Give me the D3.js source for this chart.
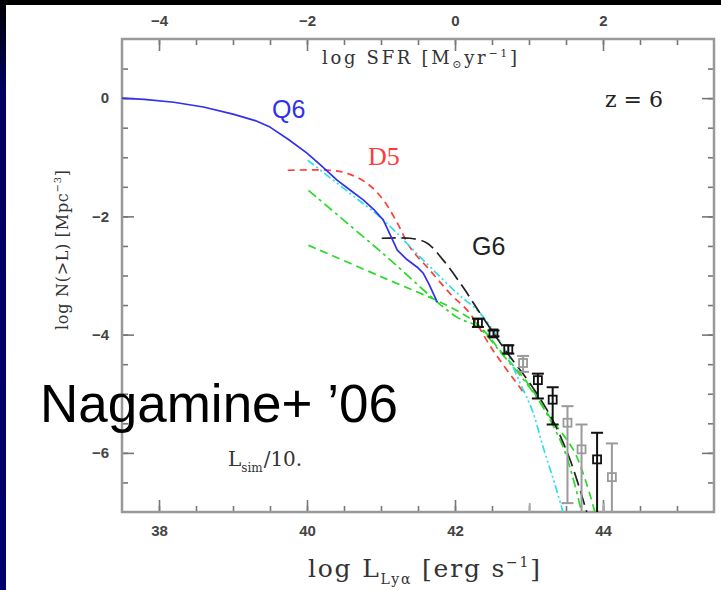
<!DOCTYPE html>
<html>
<head>
<meta charset="utf-8">
<script src="https://cdn.jsdelivr.net/npm/d3@7"></script>
<style>
  body { margin: 0; background: #000; }
  svg { display: block; }
  .tick text { font-family: "Liberation Sans", Arial, sans-serif; font-size: 15px; font-weight: bold; fill: #444; }
  .tick line { stroke: #777; stroke-width: 1.6; }
  .serif { font-family: "Liberation Serif", "DejaVu Serif", serif; }
  .wide { font-family: "DejaVu Serif", serif; }
  .sans { font-family: "Liberation Sans", Arial, sans-serif; }
</style>
</head>
<body>
<div id="chart"></div>
<script>
// curves: [log L, log N(>L)]
const q6 = [[37.5, 0], [37.8, -0.02], [38.2, -0.07], [38.6, -0.15], [39.0, -0.27], [39.3, -0.38], [39.5, -0.49],
  [39.75, -0.7], [40.0, -0.93], [40.2, -1.15], [40.41, -1.39], [40.6, -1.57], [40.76, -1.72], [40.9, -1.88],
  [41.03, -2.06], [41.12, -2.3], [41.22, -2.57], [41.35, -2.73], [41.49, -2.86], [41.57, -2.96], [41.65, -3.15],
  [41.76, -3.45]];
const d5 = [[39.74, -1.22], [40.31, -1.22], [40.54, -1.27], [40.81, -1.44], [41.03, -1.72], [41.22, -2.11],
  [41.39, -2.52], [41.66, -2.91], [41.93, -3.30], [42.2, -3.64], [42.51, -4.26], [42.88, -4.9], [42.95, -5.02]];
const g6 = [[41.01, -2.37], [41.39, -2.37], [41.62, -2.45], [41.84, -2.74], [42.11, -3.2], [42.34, -3.64],
  [42.7, -4.3], [43.0, -4.8], [43.3, -5.4], [43.55, -6.1], [43.78, -7.0]];
const cyanRun = [[40.01, -1.05], [40.58, -1.61], [41.03, -2.06], [41.57, -2.74], [42.03, -3.30], [42.34, -3.64],
  [42.65, -4.2], [42.88, -4.82], [43.05, -5.3], [43.19, -5.9], [43.33, -6.45], [43.46, -7.0]];
const greenA = [[40.02, -1.56], [41.0, -2.6], [42.02, -3.7], [42.3, -3.86], [42.65, -4.35], [42.97, -4.83],
  [43.2, -5.25], [43.46, -5.9], [43.6, -6.45], [43.71, -7.0]];
const greenB = [[40.02, -2.49], [41.0, -3.02], [41.93, -3.53], [42.3, -3.82], [42.65, -4.33], [42.97, -4.8],
  [43.28, -5.39], [43.6, -5.95], [43.76, -6.45], [43.89, -7.0]];

// observed points (log L, log N, lower, upper)
const obsBlack = [[42.31, -3.80, -3.87, -3.73], [42.52, -3.98, -4.03, -3.93], [42.72, -4.25, -4.32, -4.18],
  [43.12, -4.77, -5.08, -4.66], [43.32, -5.10, -5.52, -4.89], [43.92, -6.11, -7.5, -5.66]];
const obsGray = [[42.92, -4.48, -4.63, -4.36], [43.52, -5.49, -6.85, -5.21], [43.71, -5.94, -7.5, -5.52],
  [44.12, -6.41, -7.5, -5.84]];
// error bars of points below the frame: [log L, upper]
const obsStubs = [[43.01, -6.85], [44.01, -6.85]];

const xMajor = [38, 40, 42, 44];
const sfrMajor = [-4, -2, 0, 2];
const yMajor = [0, -2, -4, -6];

const W = 721, H = 590;
const margin = { l: 122, r: 7, t: 39, b: 78 };
const inner_w = W - margin.l - margin.r;
const inner_h = H - margin.t - margin.b;

const svg = d3.select("#chart").append("svg").attr("width", W).attr("height", H);

// slide background
const defs = svg.append("defs");
const grad = defs.append("linearGradient").attr("id", "navy").attr("x1", 0).attr("y1", 0).attr("x2", 0).attr("y2", 1);
grad.append("stop").attr("offset", "0%").attr("stop-color", "#000");
grad.append("stop").attr("offset", "15%").attr("stop-color", "#000060");
grad.append("stop").attr("offset", "100%").attr("stop-color", "#00006e");
svg.append("rect").attr("width", W).attr("height", H).attr("fill", "#000");
svg.append("rect").attr("width", 6).attr("height", H).attr("fill", "url(#navy)");
svg.append("rect").attr("x", 6).attr("y", 5).attr("width", W - 6).attr("height", H - 5).attr("fill", "#fff");

const x = d3.scaleLinear().domain([37.5, 45.5]).range([0, inner_w]);
const xs = d3.scaleLinear().domain([-4.5, 3.5]).range([0, inner_w]);
const y = d3.scaleLinear().domain([-7, 1]).range([inner_h, 0]);

defs.append("clipPath").attr("id", "clip").append("rect").attr("width", inner_w).attr("height", inner_h);

const graph = svg.append("g").attr("transform", `translate(${margin.l},${margin.t})`);

const halves = (lo, hi) => d3.range(lo, hi + 0.001, 0.5);

function ticks(axis, major, minor, tr) {
  graph.append("g").attr("transform", tr)
    .call(axis.tickValues(minor).tickSizeInner(-6).tickSizeOuter(0).tickFormat(""))
    .call(g => g.select(".domain").remove());
  graph.append("g").attr("transform", tr)
    .call(axis.tickValues(major).tickSizeInner(-12).tickSizeOuter(0).tickPadding(13).tickFormat(d3.format("d")))
    .call(g => g.select(".domain").remove());
}
ticks(d3.axisBottom(x), xMajor, halves(38, 45), `translate(0,${inner_h})`);
ticks(d3.axisTop(xs), sfrMajor, halves(-4, 3), "translate(0,0)");
ticks(d3.axisLeft(y), yMajor, halves(-6.5, 0.5), "translate(0,0)");
graph.append("g").attr("transform", `translate(${inner_w},0)`)
  .call(d3.axisRight(y).tickValues(halves(-6.5, 0.5)).tickSizeInner(-6).tickSizeOuter(0).tickFormat(""))
  .call(g => g.select(".domain").remove());
graph.append("g").attr("transform", `translate(${inner_w},0)`)
  .call(d3.axisRight(y).tickValues(yMajor).tickSizeInner(-12).tickSizeOuter(0).tickFormat(""))
  .call(g => g.select(".domain").remove());

graph.append("rect").attr("width", inner_w).attr("height", inner_h)
  .attr("fill", "none").attr("stroke", "#999").attr("stroke-width", 2.5);

// curves
const plot = graph.append("g").attr("clip-path", "url(#clip)");
const smooth = d3.line().x(d => x(d[0])).y(d => y(d[1])).curve(d3.curveCatmullRom.alpha(0.5));
const straight = d3.line().x(d => x(d[0])).y(d => y(d[1]));

const curves = [
  { data: greenB, color: "#2bd92b", dash: "8,5", line: smooth },
  { data: greenA, color: "#2bd92b", dash: "10,4,3,4", line: smooth },
  { data: d5, color: "#ff3b3b", dash: "7,5", line: smooth },
  { data: cyanRun, color: "#2ee0e8", dash: "8,3,2,3,2,3", line: smooth },
  { data: g6, color: "#222", dash: "14,6", line: smooth },
  { data: q6, color: "#3030ee", dash: null, line: straight }
];
plot.selectAll(".curve").data(curves).enter()
  .append("path")
  .attr("class", "curve")
  .attr("d", d => d.line(d.data))
  .attr("fill", "none")
  .attr("stroke", d => d.color)
  .attr("stroke-width", 1.7)
  .attr("stroke-linejoin", "round")
  .attr("stroke-dasharray", d => d.dash);

// observed points with error bars
function points(data, color) {
  const g = plot.append("g").attr("stroke", color).attr("stroke-width", 2).attr("fill", "none");
  g.selectAll(".bar").data(data).enter().append("line")
    .attr("x1", d => x(d[0])).attr("x2", d => x(d[0]))
    .attr("y1", d => y(d[2])).attr("y2", d => y(d[3]));
  g.selectAll(".capHi").data(data).enter().append("line")
    .attr("x1", d => x(d[0]) - 6).attr("x2", d => x(d[0]) + 6)
    .attr("y1", d => y(d[3])).attr("y2", d => y(d[3]));
  g.selectAll(".capLo").data(data).enter().append("line")
    .attr("x1", d => x(d[0]) - 6).attr("x2", d => x(d[0]) + 6)
    .attr("y1", d => y(d[2])).attr("y2", d => y(d[2]));
  g.selectAll(".sq").data(data).enter().append("rect")
    .attr("x", d => x(d[0]) - 4).attr("y", d => y(d[1]) - 4)
    .attr("width", 8).attr("height", 8)
    .attr("stroke-width", 1.8);
}
points(obsGray, "#9a9a9a");
points(obsBlack, "#111");
plot.selectAll(".stub").data(obsStubs).enter().append("line")
  .attr("class", "stub")
  .attr("x1", d => x(d[0])).attr("x2", d => x(d[0]))
  .attr("y1", d => y(d[1])).attr("y2", inner_h)
  .attr("stroke", "#aaa").attr("stroke-width", 2);

// labels
const lab = (txt, px, py, cls, size, color) =>
  graph.append("text").attr("class", cls).attr("x", px).attr("y", py)
    .attr("font-size", size).attr("fill", color).text(txt);

lab("Q6", 150, 79, "sans", 25, "#3030ee");
lab("D5", 246, 126, "serif", 26, "#ff3b3b");
lab("G6", 350, 216, "sans", 25, "#222");
lab("z=6", 483, 68, "wide", 22, "#222").attr("textLength", 58).attr("lengthAdjust", "spacing");

const ls = graph.append("text").attr("class", "wide").attr("x", 106).attr("y", 427)
  .attr("font-size", 20).attr("fill", "#333");
ls.append("tspan").text("L");
ls.append("tspan").attr("font-size", 12).attr("dy", 6).text("sim");
ls.append("tspan").attr("dy", -6).attr("dx", 1).text("/10.");

// axis titles
const sfrTitle = graph.append("text").attr("class", "wide").attr("x", 200).attr("y", 25)
  .attr("font-size", 18).attr("fill", "#333").attr("textLength", 195).attr("lengthAdjust", "spacing");
sfrTitle.append("tspan").text("log SFR [M");
sfrTitle.append("tspan").attr("font-size", 11).attr("dy", 4).text("⊙");
sfrTitle.append("tspan").attr("dy", -4).text("yr");
sfrTitle.append("tspan").attr("font-size", 11).attr("dy", -7).text("−1");
sfrTitle.append("tspan").attr("dy", 7).text("]");

const yt = svg.append("text").attr("class", "wide")
  .attr("transform", "translate(68,250) rotate(-90)")
  .attr("text-anchor", "middle").attr("font-size", 16).attr("fill", "#333")
  .attr("textLength", 160).attr("lengthAdjust", "spacing");
yt.append("tspan").text("log N(>L) [Mpc");
yt.append("tspan").attr("font-size", 10).attr("dy", -7).text("−3");
yt.append("tspan").attr("dy", 7).text("]");

const xt = svg.append("text").attr("class", "wide").attr("x", 308).attr("y", 577)
  .attr("font-size", 25).attr("fill", "#333").attr("textLength", 232).attr("lengthAdjust", "spacing");
xt.append("tspan").text("log L");
xt.append("tspan").attr("font-size", 14).attr("dy", 7).text("Lyα");
xt.append("tspan").attr("dy", -7).text(" [erg s");
xt.append("tspan").attr("font-size", 14).attr("dy", -10).text("−1");
xt.append("tspan").attr("dy", 10).text("]");

svg.append("text").attr("class", "sans").attr("x", 40).attr("y", 422)
  .attr("font-size", 53).attr("fill", "#000").text("Nagamine+ ’06");
</script>
</body>
</html>
